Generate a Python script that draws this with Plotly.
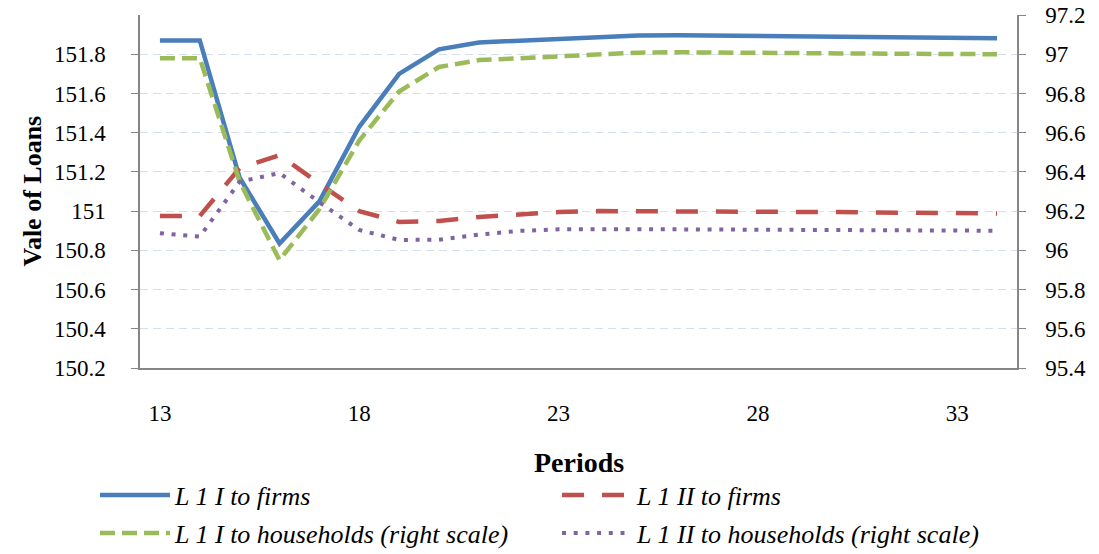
import plotly.graph_objects as go

periods = list(range(13, 35))
l1_i_firms = [151.87, 151.87, 151.17, 150.835, 151.05, 151.43, 151.70, 151.825, 151.86, 151.87,
              151.88, 151.89, 151.895, 151.897, 151.895, 151.893, 151.891, 151.889, 151.887,
              151.885, 151.883, 151.881]
l1_ii_firms = [150.975, 150.975, 151.22, 151.285, 151.14, 151.0, 150.945, 150.95, 150.97, 150.985,
               150.995, 151.0, 151.0, 151.0, 151.0, 150.998, 150.996, 150.995, 150.993, 150.991,
               150.99, 150.988]
l1_i_households = [96.98, 96.98, 96.35, 95.95, 96.21, 96.56, 96.81, 96.935, 96.97, 96.98, 96.99,
                   97.0, 97.008, 97.01, 97.01, 97.008, 97.006, 97.004, 97.003, 97.002, 97.001, 97.0]
l1_ii_households = [96.087, 96.07, 96.35, 96.394, 96.245, 96.104, 96.053, 96.054, 96.080, 96.099,
                    96.107, 96.108, 96.108, 96.107, 96.106, 96.105, 96.104, 96.103, 96.102, 96.101,
                    96.100, 96.100]

left_ticks = [150.2, 150.4, 150.6, 150.8, 151.0, 151.2, 151.4, 151.6, 151.8]
left_labels = ["150.2", "150.4", "150.6", "150.8", "151", "151.2", "151.4", "151.6", "151.8"]
right_ticks = [95.4, 95.6, 95.8, 96.0, 96.2, 96.4, 96.6, 96.8, 97.0, 97.2]
right_labels = ["95.4", "95.6", "95.8", "96", "96.2", "96.4", "96.6", "96.8", "97", "97.2"]
x_ticks = [13, 18, 23, 28, 33]

FONT = "Liberation Serif"
W, H = 1099, 554
L, R, T, B = 140, 1017, 15, 368
pw, ph = R - L, B - T

def px_x(x):
    return (x - L) / pw

def px_y(y):
    return (B - y) / ph

fig = go.Figure()
fig.add_trace(go.Scatter(x=periods, y=l1_i_firms, name="L 1 I to firms", mode="lines",
                         line=dict(color="#4A7EBB", width=4.5), yaxis="y", legend="legend"))
fig.add_trace(go.Scatter(x=periods, y=l1_ii_firms, name="L 1 II to firms", mode="lines",
                         line=dict(color="#C0504D", width=4.5, dash="22px,18px"),
                         yaxis="y", legend="legend2"))
fig.add_trace(go.Scatter(x=periods, y=l1_i_households, name="L 1 I to households (right scale)", mode="lines",
                         line=dict(color="#9BBB59", width=4.5, dash="15px,7px"), yaxis="y2", legend="legend3"))
fig.add_trace(go.Scatter(x=periods, y=l1_ii_households, name="L 1 II to households (right scale)", mode="lines",
                         line=dict(color="#8064A2", width=4, dash="4px,7.7px"),
                         yaxis="y2", legend="legend4"))

axis_color = "#868686"
tickfont = dict(family=FONT, size=23, color="black")
legfont = dict(family=FONT, size=26, color="black", style="italic")

def leg(xpx, ypx):
    return dict(x=px_x(xpx), y=px_y(ypx), xanchor="left", yanchor="middle", font=legfont,
                bgcolor="rgba(0,0,0,0)", itemwidth=70, borderwidth=0, visible=True)

fig.update_layout(
    width=W, height=H,
    showlegend=True,
    margin=dict(l=L, r=W - R, t=T, b=H - B, autoexpand=False),
    plot_bgcolor="white", paper_bgcolor="white",
    font=dict(family=FONT, color="black"),
    xaxis=dict(range=[12.5, 34.5], tickvals=x_ticks, showline=True, linecolor=axis_color, linewidth=1.5,
               ticks="", showgrid=False, zeroline=False, tickfont=tickfont, ticklabelstandoff=24),
    yaxis=dict(range=[150.2, 152.0], tickvals=left_ticks, ticktext=left_labels, showline=True,
               linecolor=axis_color, linewidth=1.5, ticks="outside", ticklen=7, tickcolor=axis_color,
               showgrid=True, gridcolor="#D3DEEF", griddash="8px,5px", gridwidth=1, zeroline=False,
               tickfont=tickfont, ticklabelstandoff=21),
    yaxis2=dict(range=[95.4, 97.2], tickvals=right_ticks, ticktext=right_labels, overlaying="y", side="right",
                showline=True, linecolor=axis_color, linewidth=1.5, ticks="outside", ticklen=7,
                tickcolor=axis_color, showgrid=False, zeroline=False, tickfont=tickfont, ticklabelstandoff=15),
    legend=leg(95, 495),
    legend2=leg(557, 495),
    legend3=leg(95, 533),
    legend4=leg(557, 533),
    annotations=[
        dict(text="<b>Vale of Loans</b>", textangle=-90, x=px_x(32), y=0.5, xref="paper", yref="paper",
             showarrow=False, font=dict(family=FONT, size=26, color="black"), xanchor="center", yanchor="middle"),
        dict(text="<b>Periods</b>", x=0.5, y=px_y(462), xref="paper", yref="paper",
             showarrow=False, font=dict(family=FONT, size=28, color="black"), xanchor="center", yanchor="middle"),
    ],
)

fig.write_html("out.html", config={"displayModeBar": False},
               post_script="document.body.style.margin='0';document.body.style.overflow='hidden';")
